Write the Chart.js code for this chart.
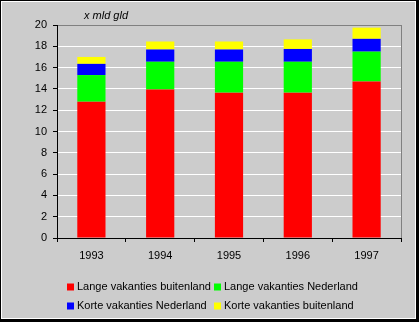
<!DOCTYPE html>
<html>
<head>
<meta charset="utf-8">
<script src="https://cdn.jsdelivr.net/npm/chart.js@4"></script>
<style>
  html, body { margin: 0; padding: 0; background: #000; }
  #frame {
    position: absolute; left: 0; top: 0;
    width: 419px; height: 322px; background: #000;
  }
  #inner {
    position: absolute; left: 1px; top: 1px;
    width: 413px; height: 316px;
    border: 1px solid #fff; background: #cccccc;
  }
  #wrap { position: absolute; left: -2px; top: -2px; width: 419px; height: 322px; }
</style>
</head>
<body>
<div id="frame"><div id="inner"><div id="wrap"><canvas id="chart" width="419" height="322"></canvas></div></div></div>
<script>
const years = ["1993", "1994", "1995", "1996", "1997"];
const langeBuitenland = [12.8, 13.95, 13.65, 13.65, 14.7];
const langeNederland = [2.5, 2.6, 2.9, 2.9, 2.8];
const korteNederland = [1.05, 1.15, 1.15, 1.2, 1.2];
const korteBuitenland = [0.65, 0.75, 0.75, 0.9, 1.05];
const yTicks = [0, 2, 4, 6, 8, 10, 12, 14, 16, 18, 20];
const unitLabel = "x mld gld";

const font = "Liberation Sans, Arial, sans-serif";

// legend + unit label + grey right border drawn by hand
const extras = {
  id: "extras",
  afterDraw(chart) {
    const ctx = chart.ctx;
    const a = chart.chartArea;
    ctx.save();
    ctx.strokeStyle = "#808080";
    ctx.lineWidth = 1;
    ctx.beginPath();
    ctx.moveTo(Math.round(a.right) + 0.5, a.top);
    ctx.lineTo(Math.round(a.right) + 0.5, a.bottom);
    ctx.stroke();

    ctx.fillStyle = "#000";
    ctx.font = "italic 11px " + font;
    ctx.textBaseline = "middle";
    ctx.fillText(unitLabel, 84, 16);

    ctx.font = "11px " + font;
    const pos = [[67, 287], [214, 287], [67, 306], [214, 306]];
    chart.data.datasets.forEach((ds, i) => {
      const [x, y] = pos[i];
      ctx.fillStyle = ds.backgroundColor;
      ctx.fillRect(x, y - 3.5, 7, 7);
      ctx.fillStyle = "#000";
      ctx.fillText(ds.label, x + 10, y);
    });
    ctx.restore();
  }
};

new Chart(document.getElementById("chart"), {
  type: "bar",
  data: {
    labels: years,
    datasets: [
      { label: "Lange vakanties buitenland", data: langeBuitenland, backgroundColor: "#ff0000" },
      { label: "Lange vakanties Nederland", data: langeNederland, backgroundColor: "#00ff00" },
      { label: "Korte vakanties Nederland", data: korteNederland, backgroundColor: "#0000ff" },
      { label: "Korte vakanties buitenland", data: korteBuitenland, backgroundColor: "#ffff00" }
    ]
  },
  options: {
    responsive: false,
    animation: false,
    events: [],
    layout: { padding: { left: 0, right: 18, top: 25, bottom: 54 } },
    datasets: { bar: { categoryPercentage: 1, barPercentage: 0.41 } },
    plugins: { legend: { display: false }, tooltip: { enabled: false } },
    scales: {
      x: {
        stacked: true,
        afterFit: s => { s.height = 30; },
        grid: { offset: true, drawOnChartArea: false, tickLength: 4, tickColor: "#000" },
        border: { color: "#000" },
        ticks: { color: "#000", font: { family: font, size: 11 }, padding: 7, maxRotation: 0 }
      },
      y: {
        stacked: true,
        min: 0, max: 20,
        afterFit: s => { s.width = 57; },
        afterBuildTicks: s => { s.ticks = yTicks.map(v => ({ value: v })); },
        grid: {
          color: c => c.tick && c.tick.value === 20 ? "#808080" : "#ffffff",
          tickLength: 4, tickColor: "#000"
        },
        border: { color: "#000" },
        ticks: { color: "#000", font: { family: font, size: 11 }, padding: 6 }
      }
    }
  },
  plugins: [extras]
});
</script>
</body>
</html>
